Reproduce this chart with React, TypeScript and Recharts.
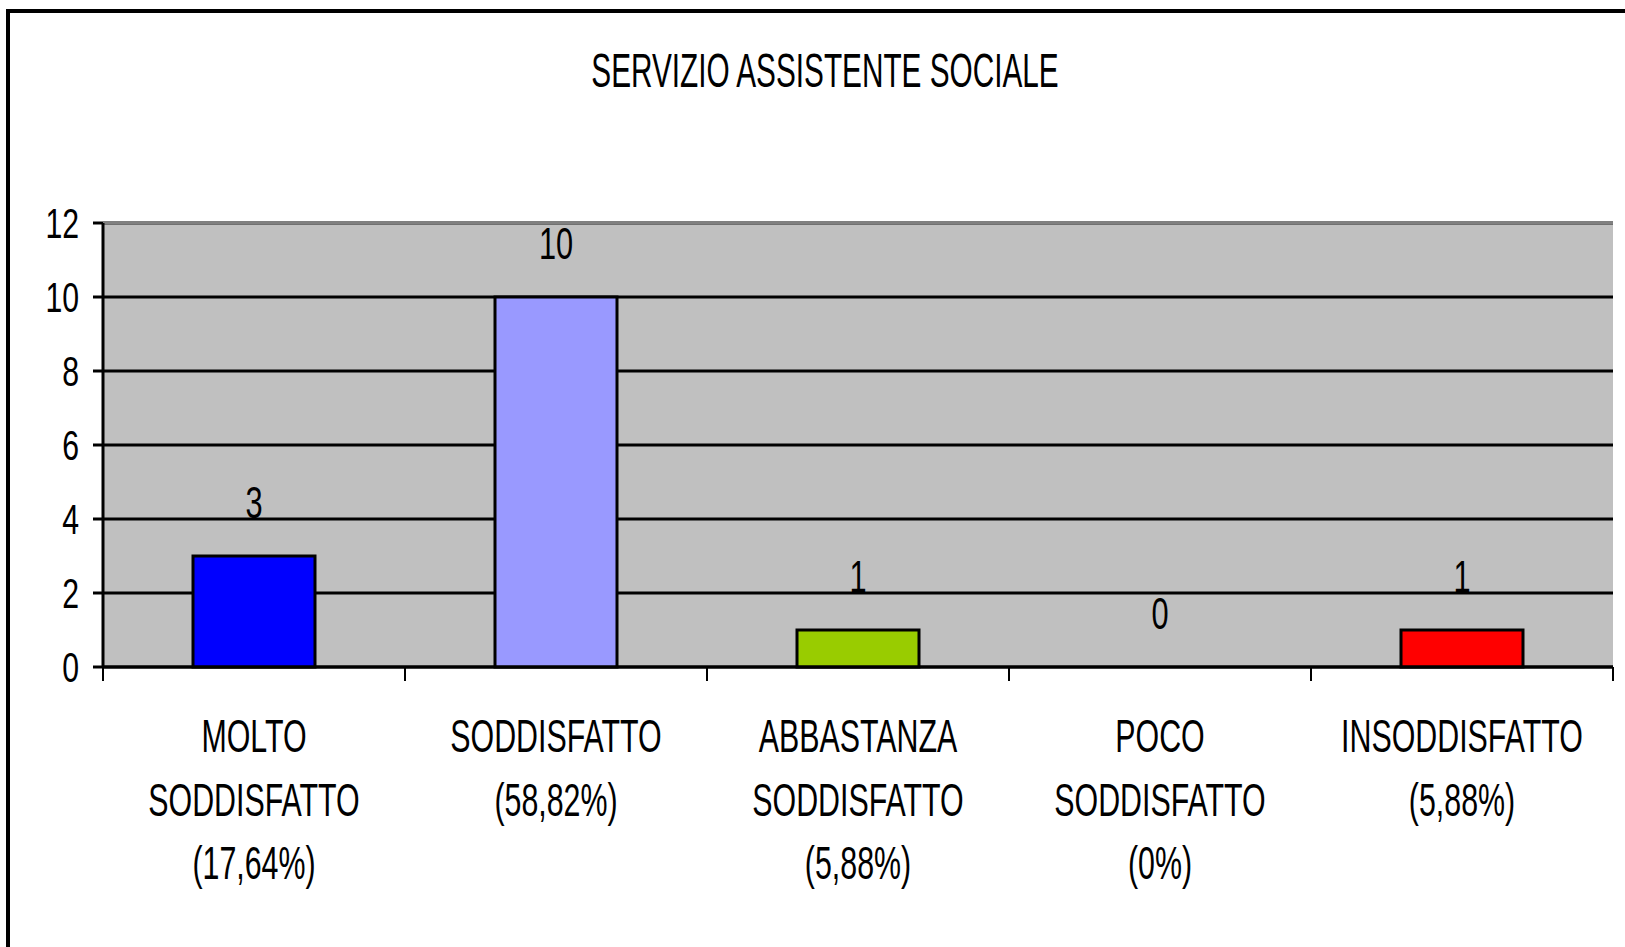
import { Bar, BarChart, CartesianGrid, Cell, LabelList, Line, ReferenceLine, XAxis, YAxis } from 'recharts';

const CATEGORIES = ['MOLTO SODDISFATTO', 'SODDISFATTO', 'ABBASTANZA SODDISFATTO', 'POCO SODDISFATTO', 'INSODDISFATTO'];
const PERCENTAGES = ['(17,64%)', '(58,82%)', '(5,88%)', '(0%)', '(5,88%)'];
const VALUES = [3, 10, 1, 0, 1];
const BAR_COLORS = ['#0000ff', '#9999ff', '#99cc00', '#ffffff', '#ff0000'];
const Y_TICKS = [0, 2, 4, 6, 8, 10, 12];
const TITLE = 'SERVIZIO ASSISTENTE SOCIALE';

const FONT = '"Liberation Sans", Arial, sans-serif';

const data = CATEGORIES.map((name, i) => ({ name, value: VALUES[i] }));

function YTick({ x, y, payload }: { x?: number; y?: number; payload?: { value: number } }) {
  return (
    <text
      transform={`translate(${(x ?? 0) - 12}, ${(y ?? 0) + 15}) scale(0.72, 1)`}
      textAnchor="end"
      fontFamily={FONT}
      fontSize={42}
      fill="#000"
    >
      {payload?.value}
    </text>
  );
}

// category labels, plus tick marks at the band edges (offset = half band from the scale)
function CategoryTick({ x, y, payload, index }: any) {
  const cx = x ?? 0;
  const cy = y ?? 0;
  const half = payload?.offset ?? 0;
  const lines = [...String(payload?.value ?? '').split(' '), PERCENTAGES[index ?? 0]];
  const isLast = index === CATEGORIES.length - 1;
  return (
    <g>
      <line x1={cx - half} x2={cx - half} y1={cy} y2={cy + 14} stroke="#000" strokeWidth={2} />
      {isLast && <line x1={cx + half} x2={cx + half} y1={cy} y2={cy + 14} stroke="#000" strokeWidth={2} />}
      {lines.map((line, i) => (
        <text
          key={i}
          transform={`translate(${cx}, ${cy + 85 + i * 63.5}) scale(0.66, 1)`}
          textAnchor="middle"
          fontFamily={FONT}
          fontSize={46}
          fill="#000"
        >
          {line}
        </text>
      ))}
    </g>
  );
}

function ValueLabel(props: any) {
  const { x, y, value } = props;
  return (
    <text
      transform={`translate(${x}, ${y - 38}) scale(0.7, 1)`}
      textAnchor="middle"
      fontFamily={FONT}
      fontSize={44}
      fill="#000"
    >
      {value}
    </text>
  );
}

export default function App() {
  return (
    <div
      style={{
        position: 'fixed',
        left: 0,
        top: 0,
        width: 1625,
        height: 947,
        overflow: 'hidden',
        background: '#fff',
      }}
    >
      <div
        style={{
          position: 'absolute',
          left: 6,
          top: 9,
          width: 2000,
          height: 2000,
          border: '4px solid #000',
        }}
      />
      <svg width={1625} height={947} style={{ position: 'absolute', left: 0, top: 0 }}>
        <text
          transform="translate(825, 87) scale(0.62, 1)"
          textAnchor="middle"
          fontFamily={FONT}
          fontSize={48}
          fill="#000"
        >
          {TITLE}
        </text>
      </svg>
      <div style={{ position: 'absolute', left: 0, top: 0 }}>
        <BarChart
          width={1625}
          height={947}
          data={data}
          margin={{ top: 223, right: 12, bottom: 279, left: 43 }}
        >
          <CartesianGrid vertical={false} fill="#c0c0c0" fillOpacity={1} stroke="#000" strokeWidth={3} />
          <XAxis
            dataKey="name"
            height={1}
            tickSize={0}
            tickMargin={0}
            tickLine={false}
            axisLine={{ stroke: '#000', strokeWidth: 3 }}
            interval={0}
            tick={<CategoryTick />}
          />
          <YAxis
            domain={[0, 12]}
            ticks={Y_TICKS}
            width={60}
            tickSize={10}
            tickLine={{ stroke: '#000', strokeWidth: 3 }}
            axisLine={{ stroke: '#000', strokeWidth: 3 }}
            tick={<YTick />}
          />
          <YAxis
            yAxisId="r"
            orientation="right"
            domain={[0, 12]}
            width={0}
            tick={false}
            tickLine={false}
            axisLine={{ stroke: '#808080', strokeWidth: 3 }}
          />
          <ReferenceLine y={12} stroke="#808080" strokeWidth={3} />
          <Bar dataKey="value" barSize={122} stroke="#000" strokeWidth={3} isAnimationActive={false}>
            {data.map((d, i) => (
              <Cell key={d.name} fill={BAR_COLORS[i]} />
            ))}
          </Bar>
          <Line
            dataKey="value"
            stroke="none"
            dot={false}
            activeDot={false}
            legendType="none"
            isAnimationActive={false}
          >
            <LabelList dataKey="value" content={<ValueLabel />} />
          </Line>
        </BarChart>
      </div>
    </div>
  );
}
